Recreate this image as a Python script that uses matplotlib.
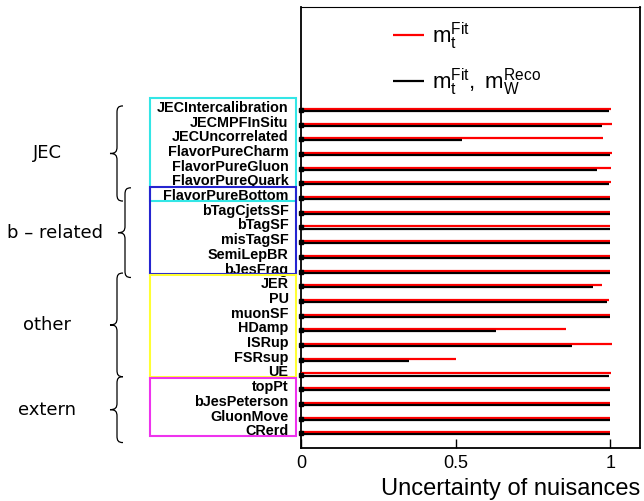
import matplotlib
matplotlib.use("Agg")
import matplotlib.pyplot as plt
import matplotlib.transforms as mtransforms
from matplotlib.path import Path
from matplotlib.patches import PathPatch, Rectangle

plt.rcParams['font.family'] = ['Liberation Sans', 'DejaVu Sans']
plt.rcParams['mathtext.fontset'] = 'custom'
plt.rcParams['mathtext.rm'] = 'Liberation Sans'
plt.rcParams['mathtext.it'] = 'Liberation Sans:italic'

# ---------------- data (top to bottom) ----------------
nuisances = ["JECIntercalibration", "JECMPFInSitu", "JECUncorrelated", "FlavorPureCharm",
             "FlavorPureGluon", "FlavorPureQuark", "FlavorPureBottom", "bTagCjetsSF",
             "bTagSF", "misTagSF", "SemiLepBR", "bJesFrag", "JER", "PU", "muonSF",
             "HDamp", "ISRup", "FSRsup", "UE", "topPt", "bJesPeterson", "GluonMove", "CRerd"]
unc_mt = [1.003, 1.004, 0.977, 1.004, 1.001, 1.003, 1.0, 1.0, 1.0, 1.0, 1.0, 1.0,
          0.972, 0.997, 1.0, 0.858, 1.004, 0.501, 1.003, 1.0, 1.0, 1.0, 1.0]
unc_mt_mw = [0.994, 0.972, 0.519, 1.0, 0.957, 0.994, 1.0, 1.0, 1.0, 1.0, 0.998, 0.998,
             0.944, 0.990, 1.0, 0.630, 0.875, 0.349, 0.996, 1.0, 1.0, 1.0, 0.998]
xticks = [0, 0.5, 1]
xticklabels = ["0", "0.5", "1"]

# groups: name, first index, last index (in nuisances order), box colour
group_names = ["JEC", "b \u2013 related", "other", "extern"]
group_first = [0, 6, 12, 19]
group_last = [6, 11, 18, 22]
group_colors = ["#33e6e6", "#2525d0", "#ffff33", "#ee33ee"]

# ---------------- figure ----------------
W, H = 644, 501
fig = plt.figure(figsize=(W / 100, H / 100), dpi=100)
ax = fig.add_axes([301 / W, 1 - 448 / H, 339 / W, 441 / H])

n = len(nuisances)
ypos = [n - i for i in range(n)]
off = 0.07
ax.hlines([y + off for y in ypos], 0, unc_mt, color="red", lw=1.6,
          label=r"$\mathrm{m_{t}^{Fit}}$", zorder=3)
ax.hlines([y - off for y in ypos], 0, unc_mt_mw, color="black", lw=1.6,
          label=r"$\mathrm{m_{t}^{Fit},\ m_{W}^{Reco}}$", zorder=3)
ax.plot([0] * n, ypos, ls="none", marker="s", ms=3.2, color="black", zorder=4, clip_on=False)

ax.set_xlim(0, 1.0957)
ax.set_ylim(0, 30)
ax.set_xticks(xticks)
ax.set_xticklabels(xticklabels, fontsize=13)
ax.tick_params(axis="x", direction="in", length=6.5, width=1.0, pad=5)
ax.set_yticks(ypos)
ax.set_yticklabels(nuisances, fontsize=10.4, fontweight="bold")
ax.tick_params(axis="y", length=0, pad=9)
shift = mtransforms.ScaledTranslation(0, 3.5 / 100, fig.dpi_scale_trans)
for lab in ax.get_yticklabels():
    lab.set_transform(lab.get_transform() + shift)
for s in ax.spines.values():
    s.set_linewidth(1.3)
ax.spines["top"].set_linewidth(0.8)
ax.set_xlabel("Uncertainty of nuisances", fontsize=17, loc="right", labelpad=4)

leg = ax.legend(loc="upper left", bbox_to_anchor=(0.225, 1.005), frameon=False,
                fontsize=16, handlelength=1.4, handletextpad=0.35, labelspacing=0.68,
                borderpad=0.2)

# ---------------- group boxes and braces ----------------
trans = mtransforms.blended_transform_factory(fig.transFigure, ax.transData)
box_x0, box_x1 = 150 / W, 296 / W
brace_x = [117, 125, 117, 117]
brace_top_pad = [0.27, 0.7, 0.9, 0.85]
brace_bot_pad = [0.2, 0.4, 0.15, 0.63]
for k, name in enumerate(group_names):
    ytop = ypos[group_first[k]]
    ybot = ypos[group_last[k]]
    rect = Rectangle((box_x0, ybot - 0.17), box_x1 - box_x0, (ytop + 0.78) - (ybot - 0.17),
                     transform=trans, fill=False, edgecolor=group_colors[k], lw=1.5,
                     clip_on=False)
    fig.patches.append(rect)

    xb = brace_x[k] / W
    we = 6 / W
    wt = 7 / W
    yt = ytop + brace_top_pad[k]
    yb = ybot - brace_bot_pad[k]
    ym = 0.5 * (yt + yb)
    h = 0.45
    verts = [(xb + we, yt),
             (xb + we * 0.2, yt), (xb, yt - h * 0.3), (xb, yt - h),
             (xb, ym + h),
             (xb, ym + h * 0.3), (xb - wt * 0.2, ym), (xb - wt, ym),
             (xb - wt * 0.2, ym), (xb, ym - h * 0.3), (xb, ym - h),
             (xb, yb + h),
             (xb, yb + h * 0.3), (xb + we * 0.2, yb), (xb + we, yb)]
    codes = [Path.MOVETO] + [Path.CURVE4] * 3 + [Path.LINETO] + [Path.CURVE4] * 6 + \
            [Path.LINETO] + [Path.CURVE4] * 3
    fig.patches.append(PathPatch(Path(verts, codes), transform=trans, fill=False,
                                 edgecolor="black", lw=0.9))
    fig.text(47 / W if k != 1 else 55 / W, ym, name, transform=trans, ha="center",
             va="center", fontsize=13, family="DejaVu Sans")

fig.savefig("out.png", dpi=100)
